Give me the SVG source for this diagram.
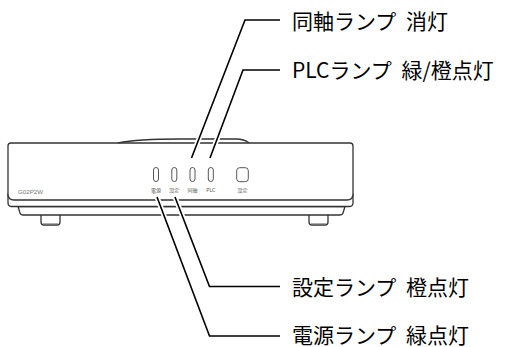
<svg xmlns="http://www.w3.org/2000/svg" width="517" height="347" viewBox="0 0 517 347">
  <style>
    .body { fill: #fff; stroke: #333; stroke-width: 1.3; stroke-linejoin: round; }
    .line { fill: none; stroke: #333; stroke-width: 1.3; stroke-linejoin: round; }
    .lamp { fill: #fff; stroke: #555; stroke-width: 1; }
    .tiny { font-family: "Noto Sans CJK JP", sans-serif; font-size: 5px; fill: #555; text-anchor: middle; }
    .model { font-family: "Liberation Sans", Arial, sans-serif; font-size: 6.2px; fill: #777; }
    .halo { fill: none; stroke: #fff; stroke-width: 5; }
    .lead { fill: none; stroke: #000; stroke-width: 1.6; stroke-linejoin: miter; }
    .label { font-family: "Noto Sans CJK JP", sans-serif; font-size: 21px; fill: #000; word-spacing: 5px; }
  </style>

  <!-- router body, front view -->
  <g id="device">
    <!-- feet -->
    <path class="line" d="M41,215 V222 Q41,225 44,225 H57 Q60,225 60,222 V215"/>
    <line x1="43" y1="224" x2="58" y2="224" stroke="#777" stroke-width="1.2"/>
    <path class="line" d="M309,215 V222 Q309,225 312,225 H325 Q328,225 328,222 V215"/>
    <line x1="311" y1="224" x2="326" y2="224" stroke="#777" stroke-width="1.2"/>
    <!-- lower base band -->
    <path class="body" d="M18,206.5 L20,213 Q20.5,215 23,215 H340 Q342.5,215 343,213 L345,206.5 Z"/>
    <!-- lip under the front panel -->
    <path class="body" d="M8,194 V203 Q8,206.5 12,206.5 H349 Q353,206.5 353,203 V194 Z"/>
    <!-- front panel -->
    <path class="body" d="M8,146 Q8,143 11,143 H350 Q353,143 353,146 V194 Q353,200 347,200 H14 Q8,200 8,194 Z"/>
    <!-- ridge on the top -->
    <path class="line" d="M118,142.8 C135,139.5 160,139 180,139 H236 C242,139 246,140.5 249,142.8"/>
    <text class="model" x="18" y="193.5">G02P2W</text>
  </g>

  <g id="lamp-power">
    <rect class="lamp" x="153.5" y="167.5" width="5" height="14" rx="2.5"/>
    <text class="tiny" x="156" y="192">電源</text>
  </g>
  <g id="lamp-setup">
    <rect class="lamp" x="171.8" y="167.5" width="5" height="14" rx="2.5"/>
    <text class="tiny" x="174.3" y="192">設定</text>
  </g>
  <g id="lamp-coax">
    <rect class="lamp" x="190" y="167.5" width="5" height="14" rx="2.5"/>
    <text class="tiny" x="192.5" y="192">同軸</text>
  </g>
  <g id="lamp-plc">
    <rect class="lamp" x="208.3" y="167.5" width="5" height="14" rx="2.5"/>
    <text class="tiny" x="210.8" y="192">PLC</text>
  </g>
  <g id="button-setup">
    <rect class="lamp" x="236.7" y="167.7" width="11.6" height="14" rx="3"/>
    <text class="tiny" x="242.5" y="192">設定</text>
  </g>

  <!-- leader lines -->
  <g id="connectors">
    <path class="halo" d="M191.5,158 L245,20 H280"/>
    <path class="halo" d="M210,158 L243,70 H280"/>
    <path class="halo" d="M175,197 L209.5,286.5 H280"/>
    <path class="halo" d="M157,197 L209.5,336 H280"/>
    <path class="lead" d="M191.5,158 L245,20 H280"/>
    <path class="lead" d="M210,158 L243,70 H280"/>
    <path class="lead" d="M175,197 L209.5,286.5 H280"/>
    <path class="lead" d="M157,197 L209.5,336 H280"/>
  </g>

  <g id="label-coax">
    <text class="label" x="292" y="29">同軸ランプ 消灯</text>
  </g>
  <g id="label-plc">
    <text class="label" x="292" y="78">PLCランプ 緑/橙点灯</text>
  </g>
  <g id="label-setup">
    <text class="label" x="292" y="294.5">設定ランプ 橙点灯</text>
  </g>
  <g id="label-power">
    <text class="label" x="292" y="342.5">電源ランプ 緑点灯</text>
  </g>
</svg>
